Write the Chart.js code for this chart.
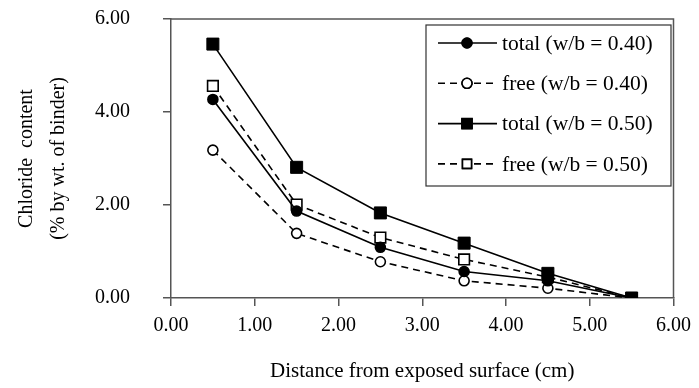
<!DOCTYPE html>
<html>
<head>
<meta charset="utf-8">
<script src="https://cdn.jsdelivr.net/npm/chart.js@4/dist/chart.umd.min.js"></script>
<style>
  html, body { margin: 0; padding: 0; background: #fff; }
  #wrap { width: 699px; height: 388px; }
</style>
</head>
<body>
<div id="wrap"><canvas id="chloride_graph"></canvas></div>
<script>
// depth from exposed surface (cm)
var depth = [0.5, 1.5, 2.5, 3.5, 4.5, 5.5];
// chloride content, % by wt. of binder
var total_40 = [4.27, 1.87, 1.09, 0.57, 0.37, 0.0];
var free_40 = [3.18, 1.39, 0.78, 0.37, 0.21, 0.0];
var total_50 = [5.46, 2.81, 1.83, 1.18, 0.53, 0.0];
var free_50 = [4.56, 2.01, 1.30, 0.83, 0.45, 0.0];
var labels = ["total (w/b = 0.40)", "free (w/b = 0.40)", "total (w/b = 0.50)", "free (w/b = 0.50)"];

function pts(ys) {
  return ys.map((y, i) => ({ x: depth[i], y: y }));
}

const FONT = "'Liberation Serif', 'Times New Roman', serif";

const datasets = [
  {
    label: labels[2],
    data: pts(total_50),
    borderColor: "#000",
    backgroundColor: "#000",
    borderWidth: 1.6,
    pointStyle: "rect",
    pointRadius: 8.5,
    pointBorderWidth: 1,
    order: 0,
  },
  {
    label: labels[0],
    data: pts(total_40),
    borderColor: "#000",
    backgroundColor: "#000",
    borderWidth: 1.6,
    pointStyle: "circle",
    pointRadius: 5,
    order: 1,
  },
  {
    label: labels[3],
    data: pts(free_50),
    borderColor: "#000",
    backgroundColor: "#fff",
    borderWidth: 1.6,
    borderDash: [7, 5],
    pointStyle: "rect",
    pointRadius: 7.5,
    pointBorderWidth: 1.6,
    order: 2,
  },
  {
    label: labels[1],
    data: pts(free_40),
    borderColor: "#000",
    backgroundColor: "#fff",
    borderWidth: 1.6,
    borderDash: [7, 5],
    pointStyle: "circle",
    pointRadius: 5,
    pointBorderWidth: 1.6,
    order: 3,
  },
];

// frame round the plot area plus the boxed key in the upper right
const framePlugin = {
  id: "frame",
  afterDraw(chart) {
    const ctx = chart.ctx;
    const a = chart.chartArea;
    ctx.save();
    ctx.strokeStyle = "#555";
    ctx.lineWidth = 1.5;
    ctx.beginPath();
    ctx.moveTo(a.left, a.top);
    ctx.lineTo(a.right, a.top);
    ctx.lineTo(a.right, a.bottom);
    ctx.stroke();

    // key box
    const bx = 426, by = 25, bw = 245, bh = 161;
    ctx.fillStyle = "#fff";
    ctx.fillRect(bx, by, bw, bh);
    ctx.strokeStyle = "#333";
    ctx.lineWidth = 1.2;
    ctx.strokeRect(bx, by, bw, bh);

    const order = [labels[0], labels[1], labels[2], labels[3]];
    ctx.font = "21.5px " + FONT;
    ctx.textBaseline = "middle";
    order.forEach((lab, i) => {
      const idx = chart.data.datasets.findIndex((d) => d.label === lab);
      const ds = chart.data.datasets[idx];
      const y = 43 + i * 40.3;
      ctx.strokeStyle = "#000";
      ctx.lineWidth = ds.borderWidth;
      ctx.setLineDash(ds.borderDash || []);
      ctx.beginPath();
      ctx.moveTo(438, y);
      ctx.lineTo(497, y);
      ctx.stroke();
      ctx.setLineDash([]);
      const r = ds.pointStyle === "rect" ? ds.pointRadius * 0.85 : ds.pointRadius;
      Chart.helpers.drawPoint(ctx, {
        pointStyle: ds.pointStyle,
        radius: r,
        borderWidth: ds.pointBorderWidth || 1,
        rotation: 0,
      }, 467, y);
      ctx.fillStyle = ds.backgroundColor;
      ctx.strokeStyle = "#000";
      ctx.lineWidth = ds.pointBorderWidth || 1;
      ctx.fill();
      ctx.stroke();
      ctx.fillStyle = "#000";
      ctx.fillText(lab, 502, y + 1);
    });
    ctx.restore();
  },
};

const config_chloride = {
  type: "line",
  data: { datasets: datasets },
  options: {
    responsive: true,
    maintainAspectRatio: false,
    animation: false,
    layout: { padding: { top: 19, right: 22, left: 11, bottom: 0 } },
    plugins: { legend: { display: false }, tooltip: { enabled: false } },
    scales: {
      x: {
        type: "linear",
        min: 0,
        max: 6,
        afterFit(scale) { scale.height = 90; },
        border: { color: "#555", width: 1.5 },
        grid: { drawOnChartArea: false, drawTicks: true, tickLength: 8, color: "#555", lineWidth: 1.5 },
        ticks: {
          stepSize: 1,
          color: "#000",
          padding: 8,
          font: { family: FONT, size: 20 },
          callback: (v) => v.toFixed(2),
        },
        title: {
          display: true,
          text: "Distance from exposed surface (cm)",
          color: "#000",
          font: { family: FONT, size: 21 },
          padding: { top: 2 },
        },
      },
      y: {
        min: 0,
        max: 6,
        afterFit(scale) {
          scale.width = 160;
          scale.paddingTop = 0;
          scale.paddingBottom = 0;
        },
        border: { color: "#555", width: 1.5 },
        grid: { drawOnChartArea: false, drawTicks: true, tickLength: 8, color: "#555", lineWidth: 1.5 },
        ticks: {
          stepSize: 2,
          color: "#000",
          padding: 33,
          font: { family: FONT, size: 20 },
          callback: (v) => v.toFixed(2),
        },
        title: {
          display: true,
          text: ["Chloride  content", "(% by wt. of binder)"],
          color: "#000",
          font: { family: FONT, size: 20, lineHeight: 1.6 },
          padding: { top: 0, bottom: 0 },
        },
      },
    },
  },
  plugins: [framePlugin],
};

new Chart(document.getElementById("chloride_graph"), config_chloride);
</script>
</body>
</html>
